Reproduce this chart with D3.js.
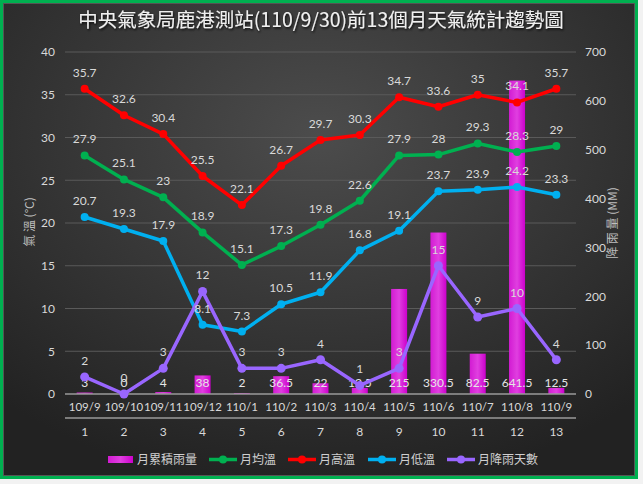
<!DOCTYPE html>
<html><head><meta charset="utf-8">
<script src="https://cdn.jsdelivr.net/npm/d3@7"></script>
<style>
html,body{margin:0;padding:0;background:#f2f2f2;}
svg{display:block;}
text{font-family:"Noto Sans CJK TC","Noto Sans",sans-serif;}
.num{font-family:Lato,"Noto Sans",sans-serif;}
</style></head>
<body>
<svg id="c" width="643" height="484"></svg>
<script>
const title = "中央氣象局鹿港測站(110/9/30)前13個月天氣統計趨勢圖";
const months = ["109/9","109/10","109/11","109/12","110/1","110/2","110/3","110/4","110/5","110/6","110/7","110/8","110/9"];
const idx = ["1","2","3","4","5","6","7","8","9","10","11","12","13"];
const rainfall = [3,0,4,38,2,36.5,22,12.5,215,330.5,82.5,641.5,12.5];
const avgTemp = [27.9,25.1,23,18.9,15.1,17.3,19.8,22.6,27.9,28,29.3,28.3,29];
const highTemp = [35.7,32.6,30.4,25.5,22.1,26.7,29.7,30.3,34.7,33.6,35,34.1,35.7];
const lowTemp = [20.7,19.3,17.9,8.1,7.3,10.5,11.9,16.8,19.1,23.7,23.9,24.2,23.3];
const rainDays = [2,0,3,12,3,3,4,1,3,15,9,10,4];
const leftTicks = [0,5,10,15,20,25,30,35,40];
const rightTicks = [0,100,200,300,400,500,600,700];

const svg = d3.select("#c");
const defs = svg.append("defs");
const bg = defs.append("radialGradient").attr("id","bg").attr("cx","50%").attr("cy","28%").attr("r","75%");
bg.append("stop").attr("offset","0%").attr("stop-color","#4c4c4c");
bg.append("stop").attr("offset","100%").attr("stop-color","#222222");
const bg2 = defs.append("linearGradient").attr("id","barg").attr("x1","0").attr("x2","1").attr("y1","0").attr("y2","0");
bg2.append("stop").attr("offset","0%").attr("stop-color","#d21bd2");
bg2.append("stop").attr("offset","50%").attr("stop-color","#e03fe0");
bg2.append("stop").attr("offset","100%").attr("stop-color","#cc00cc");
const sh = defs.append("filter").attr("id","sh").attr("x","-10%").attr("y","-30%").attr("width","120%").attr("height","160%");
sh.append("feDropShadow").attr("dx",1).attr("dy",1.5).attr("stdDeviation",1).attr("flood-color","#000").attr("flood-opacity",0.8);

// frame
svg.append("rect").attr("x",1.5).attr("y",1.5).attr("width",635).attr("height",476)
  .attr("fill","url(#bg)").attr("stroke","#00b050").attr("stroke-width",3);
svg.append("rect").attr("x",3.5).attr("y",3.5).attr("width",631).attr("height",472)
  .attr("fill","none").attr("stroke","#555").attr("stroke-width",1);

const x = d3.scaleBand().domain(months).range([65,576]);
const yL = d3.scaleLinear().domain([0,40]).range([394,52]);
const yR = d3.scaleLinear().domain([0,700]).range([394,52]);
const cx = (i)=> x(months[i]) + x.bandwidth()/2;

// gridlines
svg.append("g").selectAll("line").data(leftTicks.filter(d=>d>0)).join("line")
  .attr("x1",65).attr("x2",576).attr("y1",d=>yL(d)).attr("y2",d=>yL(d))
  .attr("stroke","#5a5a5a").attr("stroke-width",1);

function styleAxis(ax, fs){
  ax.select(".domain").remove();
  ax.selectAll("text").attr("fill","#d9d9d9").attr("font-size",fs)
    .style("font-family","Lato, 'Noto Sans', sans-serif");
}
// left axis
const axL = svg.append("g").attr("transform","translate(65,0)")
  .call(d3.axisLeft(yL).tickValues(leftTicks).tickSize(0).tickPadding(10));
styleAxis(axL, 12);
// right axis
const axR = svg.append("g").attr("transform","translate(576,0)")
  .call(d3.axisRight(yR).tickValues(rightTicks).tickSize(0).tickPadding(9));
styleAxis(axR, 12);

// bars
svg.append("g").selectAll("rect").data(rainfall).join("rect")
  .attr("x",(d,i)=>cx(i)-8).attr("width",16)
  .attr("y",d=>yR(d)).attr("height",d=>yR(0)-yR(d))
  .attr("fill","url(#barg)");

// x axis lines
svg.append("line").attr("x1",65).attr("x2",576).attr("y1",394).attr("y2",394).attr("stroke","#9a9a9a").attr("stroke-width",1.5);
svg.append("line").attr("x1",65).attr("x2",576).attr("y1",418).attr("y2",418).attr("stroke","#9a9a9a").attr("stroke-width",1.5);
const axX = svg.append("g").attr("transform","translate(0,394)")
  .call(d3.axisBottom(x).tickSize(0).tickPadding(9));
styleAxis(axX, 11.5);
const xi = d3.scaleBand().domain(idx).range([65,576]);
const axX2 = svg.append("g").attr("transform","translate(0,418)")
  .call(d3.axisBottom(xi).tickSize(0).tickPadding(9));
styleAxis(axX2, 12);

// bar labels (inside base)
svg.append("g").selectAll("text").data(rainfall).join("text")
  .attr("class","num")
  .attr("x",(d,i)=>cx(i)).attr("y",387).attr("text-anchor","middle")
  .attr("fill","#e6e6e6").attr("font-size",12).text(d=>d);

function series(vals, scale, color, r, lw){
  const g = svg.append("g");
  g.append("path").datum(vals)
    .attr("d", d3.line().x((d,i)=>cx(i)).y(d=>scale(d)))
    .attr("fill","none").attr("stroke",color).attr("stroke-width",lw).attr("stroke-linejoin","round");
  g.selectAll("circle").data(vals).join("circle")
    .attr("cx",(d,i)=>cx(i)).attr("cy",d=>scale(d)).attr("r",r).attr("fill",color);
  return g;
}
function labels(vals, scale){
  svg.append("g").selectAll("text").data(vals).join("text")
    .attr("class","num")
    .attr("x",(d,i)=>cx(i)).attr("y",d=>scale(d)-12).attr("text-anchor","middle")
    .attr("fill","#d9d9d9").attr("font-size",12).text(d=>d);
}
series(highTemp, yL, "#ff0000", 4, 3.5);
series(avgTemp, yL, "#00b050", 4, 3.5);
series(lowTemp, yL, "#00b0f0", 4, 3.5);
series(rainDays, yL, "#9966ff", 4.5, 3.5);
labels(highTemp, yL); labels(avgTemp, yL); labels(lowTemp, yL); labels(rainDays, yL);

// title
svg.append("text").attr("x",321).attr("y",27).attr("text-anchor","middle")
  .attr("fill","#f0f0f0").attr("font-size",19.5).attr("filter","url(#sh)").text(title);

// axis titles
svg.append("text").attr("transform","translate(34,222) rotate(-90)").attr("text-anchor","middle")
  .attr("fill","#bfbfbf").attr("font-size",12).text("氣 溫 (°C)");
svg.append("text").attr("transform","translate(617,223) rotate(-90)").attr("text-anchor","middle")
  .attr("fill","#bfbfbf").attr("font-size",12).text("降 雨 量 (MM)");

// legend
const leg = [
  {name:"月累積雨量", color:"#cc00cc", type:"bar", x0:108},
  {name:"月均溫", color:"#00b050", type:"line", x0:209},
  {name:"月高溫", color:"#ff0000", type:"line", x0:288},
  {name:"月低溫", color:"#00b0f0", type:"line", x0:368},
  {name:"月降雨天數", color:"#9966ff", type:"line", x0:447}
];
const lg = svg.append("g").selectAll("g").data(leg).join("g");
lg.each(function(d){
  const g = d3.select(this);
  if(d.type==="bar"){
    g.append("rect").attr("x",d.x0).attr("y",456).attr("width",25).attr("height",7).attr("fill","url(#barg)");
  } else {
    g.append("line").attr("x1",d.x0).attr("x2",d.x0+28).attr("y1",459.5).attr("y2",459.5).attr("stroke",d.color).attr("stroke-width",3.5);
    g.append("circle").attr("cx",d.x0+14).attr("cy",459.5).attr("r",4).attr("fill",d.color);
  }
  g.append("text").attr("x",d.x0+(d.type==="bar"?29:31)).attr("y",464).attr("fill","#d0d0d0").attr("font-size",12).text(d.name);
});
</script>
</body></html>
